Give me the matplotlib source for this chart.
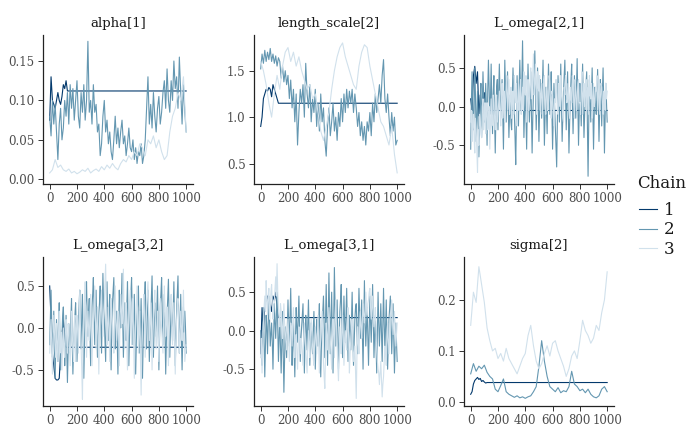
import numpy as np
import matplotlib
matplotlib.use("Agg")
import matplotlib.pyplot as plt
from matplotlib.ticker import FixedLocator, FormatStrFormatter

plt.rcParams["font.family"] = ["DejaVu Serif"]
plt.rcParams["axes.unicode_minus"] = False

chains = ["1", "2", "3"]
colors = ["#03396c", "#6497b1", "#d1e1ec"]

# chain 1 is read every 10 iterations up to 130, after which it stays flat
it_early = list(range(0, 131, 10))

# ---- alpha[1]  (chain 2 every 10 it., chain 3 every 20 it.)
alpha_c1 = [0.075, 0.13, 0.10, 0.095, 0.09, 0.10, 0.11, 0.10, 0.095, 0.105, 0.12, 0.115, 0.125, 0.112]
alpha_c2 = [0.08, 0.055, 0.10, 0.07, 0.095, 0.06, 0.025, 0.07, 0.09, 0.05,
            0.065, 0.10, 0.08, 0.11, 0.07, 0.12, 0.09, 0.115, 0.075, 0.10,
            0.125, 0.08, 0.065, 0.11, 0.085, 0.12, 0.075, 0.10, 0.175, 0.085,
            0.10, 0.07, 0.12, 0.085, 0.095, 0.06, 0.07, 0.03, 0.045, 0.08,
            0.10, 0.06, 0.075, 0.045, 0.06, 0.035, 0.025, 0.05, 0.08, 0.045,
            0.065, 0.04, 0.06, 0.075, 0.045, 0.055, 0.03, 0.045, 0.065, 0.04,
            0.035, 0.05, 0.025, 0.04, 0.02, 0.035, 0.03, 0.045, 0.02, 0.03,
            0.05, 0.09, 0.13, 0.07, 0.095, 0.065, 0.11, 0.08, 0.06, 0.09,
            0.105, 0.07, 0.085, 0.11, 0.125, 0.09, 0.14, 0.10, 0.085, 0.125,
            0.10, 0.15, 0.115, 0.13, 0.09, 0.155, 0.11, 0.07, 0.12, 0.085, 0.06]
alpha_c3 = [0.008, 0.012, 0.025, 0.015, 0.018, 0.012, 0.01, 0.013, 0.008, 0.01, 0.007, 0.009, 0.012,
            0.01, 0.014, 0.008, 0.011, 0.013, 0.01, 0.016, 0.012, 0.018, 0.014, 0.02, 0.015, 0.012,
            0.02, 0.025, 0.022, 0.03, 0.025, 0.035, 0.03, 0.045, 0.04, 0.03, 0.05, 0.045, 0.055, 0.04,
            0.05, 0.035, 0.025, 0.03, 0.06, 0.08, 0.09, 0.11, 0.10, 0.13, 0.06]

# ---- length_scale[2]
ls_c1 = [0.9, 1.0, 1.2, 1.25, 1.3, 1.28, 1.32, 1.3, 1.22, 1.35, 1.3, 1.25, 1.2, 1.15]
ls_c2 = [1.52, 1.68, 1.58, 1.72, 1.60, 1.70, 1.62, 1.74, 1.60, 1.68,
         1.58, 1.66, 1.55, 1.64, 1.60, 1.42, 1.55, 1.38, 1.50, 1.35,
         1.45, 1.20, 1.40, 1.10, 1.30, 0.95, 1.25, 0.70, 1.05, 1.30,
         1.15, 1.35, 1.00, 1.58, 1.25, 1.10, 1.35, 0.95, 1.20, 1.05,
         1.30, 0.90, 1.15, 0.85, 1.25, 0.95, 1.10, 0.75, 0.58, 0.90,
         1.10, 0.80, 0.95, 1.15, 0.85, 1.00, 0.75, 1.05, 0.90, 1.20,
         0.95, 1.25, 1.05, 1.30, 1.10, 1.28, 1.15, 1.30, 1.05, 1.25,
         1.10, 0.90, 1.05, 0.80, 0.95, 0.75, 0.90, 0.70, 0.95, 0.85,
         1.05, 0.80, 1.15, 0.95, 1.25, 1.05, 1.20, 1.35, 1.15, 1.45,
         1.62, 1.20, 1.05, 1.25, 1.00, 0.80, 1.05, 0.85, 1.00, 0.70, 0.75]
ls_c3 = [1.60, 1.50, 1.35, 1.15, 1.00, 1.25, 1.45, 1.30, 1.55, 1.70, 1.75, 1.60, 1.70, 1.55, 1.65,
         1.50, 1.40, 1.30, 1.35, 1.20, 1.25, 1.05, 0.85, 0.75, 0.90, 1.05, 1.30, 1.50, 1.65, 1.75,
         1.80, 1.65, 1.55, 1.45, 1.35, 1.30, 1.55, 1.70, 1.78, 1.75, 1.55, 1.40, 1.25, 1.10, 0.95,
         0.90, 0.80, 0.70, 0.90, 0.60, 0.40]

# ---- L_omega[2,1]  (chains 2 and 3 every 5 iterations)
lo21_c1 = [0.10, -0.05, 0.40, 0.52, 0.30, 0.45, -0.12, 0.15, -0.10, 0.05, 0.18, 0.00, -0.05, -0.05]
lo21_c2 = [-0.55, 0.05, 0.45, 0.10, -0.30, -0.05, 0.50, 0.15, -0.45, -0.10, 0.20, -0.20, -0.65, -0.25, 0.10, 0.30, -0.40, 0.05, 0.45, 0.15,
           -0.20, -0.05, 0.30, 0.00, -0.50, 0.20, 0.60, 0.25, -0.10, 0.10, 0.55, 0.05, -0.35, 0.15, 0.40, -0.15, -0.60, -0.10, 0.25, 0.35,
           -0.30, 0.20, 0.55, 0.15, -0.15, 0.10, 0.35, -0.10, -0.55, 0.05, 0.60, 0.20, -0.20, 0.15, 0.45, 0.00, -0.40, -0.10, 0.15, -0.20,
           -0.30, 0.15, 0.50, 0.20, -0.10, -0.40, -0.75, -0.15, 0.40, 0.05, -0.25, 0.25, 0.60, 0.20, -0.05, 0.35, 0.85, 0.25, -0.40, -0.05,
           0.30, -0.10, -0.55, 0.05, 0.55, 0.15, -0.20, 0.10, 0.45, -0.05, -0.60, -0.15, 0.20, 0.45, 0.72, 0.20, -0.30, 0.10, 0.50, 0.00,
           -0.45, -0.05, 0.35, 0.10, -0.15, 0.25, 0.60, 0.05, -0.50, -0.10, 0.25, -0.05, -0.35, 0.15, 0.55, 0.20, -0.10, 0.15, 0.45, -0.05,
           -0.55, -0.10, 0.30, 0.00, -0.25, -0.50, -0.78, -0.20, 0.40, 0.10, -0.20, 0.20, 0.55, 0.05, -0.45, -0.10, 0.20, 0.40, 0.60, 0.15,
           -0.30, 0.10, 0.45, -0.10, -0.60, -0.20, 0.10, 0.35, 0.55, 0.05, -0.35, 0.00, 0.40, 0.10, -0.15, 0.25, 0.62, 0.05, -0.50, -0.10,
           0.30, 0.05, -0.25, 0.20, 0.55, 0.05, -0.40, -0.10, 0.15, 0.30, 0.45, -0.20, -0.90, -0.20, 0.35, 0.05, -0.20, 0.15, 0.50, 0.00,
           -0.55, -0.10, 0.25, 0.05, -0.10, 0.20, 0.48, 0.00, -0.45, -0.05, 0.35, 0.10, -0.25, 0.20, 0.50, 0.05, -0.60, -0.15, 0.30, 0.05,
           -0.20]
lo21_c3 = [-0.20, -0.05, -0.45, -0.25, -0.10, -0.40, -0.60, -0.15, -0.30, -0.55, -0.85, -0.30, -0.50, -0.10, -0.20, -0.35, -0.40, 0.00, 0.10, -0.30,
           -0.15, 0.05, -0.35, -0.10, 0.05, -0.30, -0.25, 0.00, -0.55, -0.20, 0.10, -0.25, -0.20, 0.15, 0.05, -0.15, -0.30, 0.05, 0.15, -0.20,
           -0.10, 0.05, 0.20, -0.05, -0.25, 0.10, 0.30, -0.15, 0.00, 0.20, -0.20, 0.05, 0.25, 0.40, -0.05, 0.15, 0.35, -0.10, 0.10, 0.25,
           -0.15, 0.05, 0.20, -0.10, 0.40, 0.15, 0.05, 0.30, -0.25, 0.05, 0.30, -0.05, 0.10, 0.35, -0.10, 0.10, 0.25, -0.05, 0.45, 0.20,
           0.15, 0.40, -0.20, 0.10, 0.35, -0.05, 0.05, 0.30, 0.50, 0.10, 0.20, 0.45, 0.68, 0.15, 0.30, 0.55, 0.10, -0.10, 0.45, 0.25,
           0.20, 0.40, -0.05, 0.15, 0.30, -0.10, 0.10, 0.35, 0.40, 0.05, -0.10, 0.25, 0.20, -0.05, 0.00, 0.40, 0.30, 0.05, -0.15, 0.20,
           0.15, -0.05, -0.25, 0.10, 0.05, 0.35, 0.25, -0.05, -0.10, 0.30, 0.20, 0.00, 0.40, 0.15, 0.05, -0.15, -0.20, 0.25, 0.15, 0.40,
           0.35, 0.05, 0.10, 0.30, -0.05, -0.15, 0.25, 0.10, 0.05, 0.40, 0.30, 0.05, -0.15, 0.35, 0.20, -0.05, 0.10, 0.30, 0.35, 0.05,
           0.05, -0.10, 0.25, 0.45, -0.10, 0.15, 0.30, 0.00, 0.15, 0.35, -0.05, 0.20, 0.25, -0.10, 0.40, 0.15, 0.10, 0.30, -0.15, 0.10,
           0.30, 0.00, 0.05, 0.25, 0.20, 0.40, -0.05, 0.15, 0.35, -0.10, 0.10, 0.30, 0.25, 0.05, -0.10, 0.20, 0.15, -0.05, 0.30, 0.10,
           0.20]

# ---- L_omega[3,2]
lo32_c1 = [0.50, 0.10, -0.30, -0.45, -0.60, -0.62, -0.62, -0.60, -0.30, -0.10, 0.10, -0.20, -0.23, -0.23]
lo32_c2 = [-0.20, 0.15, 0.45, 0.05, -0.35, -0.10, 0.20, -0.25, -0.60, -0.20, 0.10, -0.15, -0.40, 0.05, 0.30, -0.10, -0.50, -0.30, -0.10, 0.15,
           0.25, -0.05, -0.45, -0.20, 0.15, -0.25, -0.65, -0.30, 0.05, -0.20, -0.30, 0.10, 0.35, -0.15, -0.55, -0.25, -0.05, 0.15, 0.30, -0.05,
           -0.40, -0.10, 0.10, 0.25, 0.45, 0.05, -0.25, 0.15, 0.40, -0.10, -0.60, -0.20, 0.20, 0.35, 0.55, 0.10, -0.10, 0.20, 0.35, -0.05,
           -0.45, -0.10, 0.25, 0.40, 0.60, 0.15, -0.20, 0.10, 0.45, 0.00, -0.35, -0.05, 0.15, 0.30, 0.50, 0.05, -0.30, 0.20, 0.65, 0.25,
           0.10, -0.15, -0.40, 0.15, 0.55, 0.10, -0.15, 0.20, 0.40, -0.10, -0.50, -0.05, 0.30, 0.45, 0.60, 0.10, -0.25, -0.05, 0.20, -0.20,
           -0.55, 0.00, 0.45, 0.20, 0.00, 0.35, 0.65, 0.10, -0.35, 0.00, 0.30, 0.05, -0.15, 0.25, 0.55, 0.05, -0.45, -0.10, 0.25, 0.40,
           0.60, 0.15, -0.20, 0.10, 0.40, -0.10, -0.55, -0.15, 0.15, 0.30, 0.50, 0.05, -0.30, 0.05, 0.35, -0.20, -0.60, -0.15, 0.20, 0.35,
           0.55, 0.10, -0.25, 0.15, 0.45, 0.00, -0.40, -0.10, 0.10, 0.35, 0.62, 0.10, -0.35, 0.00, 0.30, 0.15, -0.10, 0.20, 0.50, 0.00,
           -0.50, -0.10, 0.25, 0.40, 0.60, 0.15, -0.20, 0.10, 0.40, -0.05, -0.55, -0.15, 0.15, 0.35, 0.58, 0.10, -0.35, 0.00, 0.30, 0.05,
           -0.15, 0.20, 0.55, 0.05, -0.45, -0.10, 0.20, 0.40, 0.62, 0.10, -0.30, 0.05, 0.40, -0.10, -0.50, -0.10, 0.25, -0.05, 0.20, 0.00,
           -0.30]
lo32_c3 = [-0.30, -0.10, 0.10, -0.20, -0.55, -0.15, 0.15, -0.05, -0.25, -0.35, 0.05, -0.15, -0.40, -0.05, 0.20, -0.30, -0.20, -0.05, -0.50, -0.15,
           0.00, -0.20, -0.35, -0.05, 0.10, -0.15, -0.30, 0.05, -0.05, -0.25, -0.45, -0.10, 0.20, -0.05, -0.25, -0.40, 0.05, 0.15, -0.40, -0.10,
           0.15, 0.00, -0.30, 0.10, 0.45, 0.05, -0.20, -0.50, -0.85, -0.20, 0.10, 0.30, 0.55, 0.05, -0.35, -0.05, 0.20, 0.00, -0.15, 0.15,
           0.40, 0.00, -0.45, -0.10, 0.05, 0.25, 0.50, 0.10, -0.25, 0.05, 0.25, -0.15, -0.55, -0.10, 0.15, 0.30, 0.45, 0.10, -0.10, 0.15,
           0.30, 0.55, 0.76, 0.20, -0.20, 0.05, 0.25, -0.10, -0.40, 0.00, 0.35, 0.15, 0.05, -0.15, -0.30, 0.15, 0.50, 0.10, -0.15, 0.05,
           0.20, -0.10, -0.45, 0.05, 0.40, 0.20, 0.05, 0.35, 0.70, 0.15, -0.25, 0.05, 0.30, -0.15, -0.50, -0.10, 0.15, 0.30, 0.45, 0.10,
           -0.20, 0.10, 0.35, -0.15, -0.60, -0.20, 0.10, 0.30, 0.50, 0.05, -0.30, -0.05, 0.20, -0.35, -0.80, -0.25, 0.05, 0.20, 0.40, 0.00,
           -0.35, -0.05, 0.25, 0.40, 0.55, 0.15, -0.15, 0.05, 0.30, -0.10, -0.50, -0.15, 0.10, 0.25, 0.45, 0.05, -0.25, -0.05, 0.20, -0.10,
           -0.40, -0.05, 0.35, 0.10, 0.00, -0.15, -0.30, 0.10, 0.50, 0.15, -0.10, 0.05, 0.25, -0.15, -0.45, -0.10, 0.15, 0.30, 0.40, 0.05,
           -0.20, 0.05, 0.30, -0.10, -0.55, -0.15, 0.10, 0.25, 0.35, 0.00, -0.30, -0.05, 0.20, 0.00, -0.15, 0.15, 0.45, 0.00, -0.40, -0.30,
           -0.20]

# ---- L_omega[3,1]
lo31_c1 = [-0.30, 0.30, 0.00, 0.35, 0.40, 0.45, 0.30, 0.35, 0.25, 0.45, 0.40, 0.50, 0.30, 0.17]
lo31_c2 = [0.00, -0.20, -0.45, -0.05, 0.30, -0.15, -0.60, -0.20, 0.20, 0.05, -0.30, 0.10, 0.45, 0.10, -0.20, -0.05, 0.10, -0.15, -0.50, -0.10,
           0.35, 0.10, -0.10, 0.20, 0.50, 0.05, -0.40, -0.10, 0.15, -0.20, -0.55, -0.15, 0.25, -0.30, -0.80, -0.35, 0.05, -0.15, -0.35, 0.05,
           0.40, 0.10, -0.20, 0.20, 0.55, 0.05, -0.45, -0.15, 0.10, -0.25, -0.60, -0.10, 0.30, 0.05, -0.15, 0.15, 0.45, 0.00, -0.40, -0.10,
           0.05, 0.20, 0.35, -0.10, -0.55, -0.15, 0.20, 0.00, -0.25, 0.10, 0.40, -0.05, -0.45, -0.10, 0.10, -0.15, -0.30, 0.00, 0.25, -0.15,
           -0.50, -0.15, 0.15, 0.00, -0.20, 0.10, 0.35, -0.20, -0.60, -0.20, 0.05, 0.25, 0.45, 0.05, -0.35, 0.15, 0.60, 0.10, -0.45, 0.20,
           0.75, 0.20, -0.30, 0.15, 0.50, -0.05, -0.55, 0.10, 0.82, 0.30, -0.20, 0.10, 0.40, -0.10, -0.50, -0.10, 0.25, 0.40, 0.60, 0.10,
           -0.35, 0.05, 0.45, 0.10, -0.15, 0.20, 0.55, 0.05, -0.40, -0.10, 0.20, 0.00, -0.25, 0.15, 0.50, 0.05, -0.45, -0.15, 0.15, 0.30,
           0.35, 0.00, -0.30, 0.10, 0.55, 0.20, -0.10, 0.15, 0.40, -0.05, -0.50, 0.10, 0.65, 0.15, -0.20, 0.05, 0.30, -0.10, -0.45, 0.00,
           0.45, 0.10, -0.15, 0.25, 0.60, 0.10, -0.35, -0.05, 0.20, -0.15, -0.55, -0.05, 0.50, 0.10, -0.20, 0.05, 0.35, -0.05, -0.40, 0.05,
           0.55, 0.10, -0.25, 0.05, 0.40, -0.05, -0.50, -0.15, 0.15, 0.30, 0.45, 0.05, -0.30, 0.00, 0.35, -0.10, -0.55, -0.20, 0.10, -0.15,
           -0.40]
lo31_c3 = [-0.35, -0.10, -0.55, -0.20, 0.10, 0.30, 0.45, 0.25, 0.65, 0.40, 0.20, 0.45, 0.55, 0.15, 0.30, 0.50, 0.60, 0.35, 0.15, 0.25,
           0.40, 0.55, 0.70, 0.45, 0.87, 0.50, 0.30, 0.15, 0.05, 0.35, 0.25, 0.05, -0.10, 0.15, 0.35, 0.10, 0.00, -0.15, -0.25, -0.05,
           0.15, -0.10, -0.40, -0.15, 0.10, 0.05, -0.20, 0.10, 0.30, 0.00, -0.35, -0.15, -0.05, -0.25, -0.50, -0.20, 0.05, -0.10, -0.30, -0.10,
           -0.15, -0.30, -0.45, -0.10, 0.10, -0.05, -0.25, -0.40, -0.55, -0.20, 0.00, -0.15, -0.35, 0.00, 0.15, -0.05, -0.20, -0.35, -0.45, -0.15,
           0.05, -0.10, -0.30, -0.05, 0.20, -0.20, -0.55, -0.25, -0.10, 0.05, 0.25, -0.05, -0.40, -0.60, -0.75, -0.30, 0.10, -0.05, -0.25, 0.05,
           0.30, 0.05, -0.10, -0.30, -0.50, -0.15, 0.15, -0.05, -0.35, 0.05, 0.40, 0.10, -0.20, -0.45, -0.65, -0.25, 0.05, -0.15, -0.30, -0.05,
           0.20, -0.10, -0.45, -0.20, 0.00, -0.15, -0.25, 0.05, 0.30, -0.10, -0.55, -0.30, -0.10, 0.05, 0.15, -0.15, -0.40, -0.30, -0.20, -0.55,
           -0.88, -0.35, 0.05, -0.15, -0.30, 0.00, 0.25, 0.05, -0.10, 0.15, 0.35, 0.20, 0.10, 0.30, 0.50, 0.30, 0.20, 0.35, 0.40, 0.50,
           0.55, 0.30, 0.15, 0.30, 0.45, 0.20, 0.05, 0.15, 0.30, 0.00, -0.25, -0.40, -0.50, -0.55, -0.70, -0.55, -0.40, -0.65, -0.86, -0.70,
           -0.60, -0.40, -0.20, -0.30, -0.45, -0.15, 0.10, -0.10, -0.30, -0.05, 0.20, 0.30, 0.40, 0.15, -0.05, 0.10, 0.25, 0.05, -0.20, -0.05,
           0.10]

# ---- sigma[2]  (chains 2 and 3 every 20 iterations)
sig_c1 = [0.015, 0.02, 0.035, 0.042, 0.045, 0.048, 0.044, 0.046, 0.04, 0.042, 0.039, 0.037, 0.038, 0.038]
sig_c2 = [0.055, 0.075, 0.060, 0.070, 0.065, 0.072, 0.058, 0.050, 0.045, 0.025, 0.020, 0.032, 0.045,
          0.020, 0.015, 0.012, 0.009, 0.012, 0.008, 0.010, 0.007, 0.010, 0.012, 0.020, 0.030, 0.070,
          0.120, 0.080, 0.050, 0.030, 0.025, 0.020, 0.028, 0.018, 0.022, 0.020, 0.030, 0.060, 0.035,
          0.030, 0.022, 0.025, 0.018, 0.025, 0.015, 0.010, 0.008, 0.012, 0.025, 0.030, 0.020]
sig_c3 = [0.150, 0.215, 0.195, 0.265, 0.230, 0.195, 0.145, 0.120, 0.100, 0.105, 0.085, 0.095, 0.080,
          0.105, 0.085, 0.075, 0.065, 0.055, 0.070, 0.085, 0.095, 0.130, 0.150, 0.110, 0.080, 0.065,
          0.075, 0.095, 0.110, 0.090, 0.115, 0.120, 0.100, 0.085, 0.070, 0.050, 0.065, 0.090, 0.100,
          0.085, 0.120, 0.160, 0.140, 0.130, 0.115, 0.125, 0.150, 0.140, 0.175, 0.200, 0.255]

panels = [
    ("alpha[1]", alpha_c1, alpha_c2, alpha_c3, (-0.006, 0.183), [0, 0.05, 0.10, 0.15], "%.2f"),
    ("length_scale[2]", ls_c1, ls_c2, ls_c3, (0.28, 1.885), [0.5, 1.0, 1.5], "%.1f"),
    ("L_omega[2,1]", lo21_c1, lo21_c2, lo21_c3, (-1.0, 0.925), [-0.5, 0.0, 0.5], "%.1f"),
    ("L_omega[3,2]", lo32_c1, lo32_c2, lo32_c3, (-0.93, 0.845), [-0.5, 0.0, 0.5], "%.1f"),
    ("L_omega[3,1]", lo31_c1, lo31_c2, lo31_c3, (-0.978, 0.957), [-0.5, 0.0, 0.5], "%.1f"),
    ("sigma[2]", sig_c1, sig_c2, sig_c3, (-0.008, 0.284), [0.0, 0.1, 0.2], "%.1f"),
]

W, H = 700, 432
fig = plt.figure(figsize=(W / 100, H / 100), dpi=100)

lefts = [43, 254, 464]
tops = [35, 257]
aw, ah = 150, 149

handles = []
for i, (title, c1, c2, c3, ylim, yt, fmt) in enumerate(panels):
    r, c = divmod(i, 3)
    ax = fig.add_axes([lefts[c] / W, 1 - (tops[r] + ah) / H, aw / W, ah / H])
    lw = 0.8
    x1 = it_early + [1000]
    y1 = c1 + [c1[-1]]
    l1, = ax.plot(x1, y1, color=colors[0], lw=lw)
    l2, = ax.plot(np.linspace(0, 1000, len(c2)), c2, color=colors[1], lw=lw)
    l3, = ax.plot(np.linspace(0, 1000, len(c3)), c3, color=colors[2], lw=lw)
    if i == 0:
        handles = [l1, l2, l3]
    ax.set_xlim(-49, 1050)
    ax.set_ylim(*ylim)
    ax.xaxis.set_major_locator(FixedLocator([0, 200, 400, 600, 800, 1000]))
    ax.yaxis.set_major_locator(FixedLocator(yt))
    ax.yaxis.set_major_formatter(FormatStrFormatter(fmt))
    for s in ["top", "right"]:
        ax.spines[s].set_visible(False)
    for s in ["left", "bottom"]:
        ax.spines[s].set_color("#222222")
        ax.spines[s].set_linewidth(0.9)
    ax.tick_params(axis="both", length=3.5, width=0.7, color="#333333",
                   labelcolor="#4d4d4d", labelsize=8.5, pad=2.5)
    ax.set_title(title, fontsize=9.5, color="#1a1a1a", pad=6)

# legend: title placed on its own, entries below
fig.text(637 / W, 1 - 184 / H, "Chain", fontsize=12, color="#1a1a1a", va="center", ha="left")
leg = fig.legend(handles, chains, loc="center left",
                 bbox_to_anchor=(624 / W, 1 - 230 / H), frameon=False,
                 fontsize=12, handlelength=1.1,
                 handletextpad=0.4, labelspacing=0.15)
for t in leg.get_texts():
    t.set_color("#1a1a1a")

fig.savefig("out.png", dpi=100)
